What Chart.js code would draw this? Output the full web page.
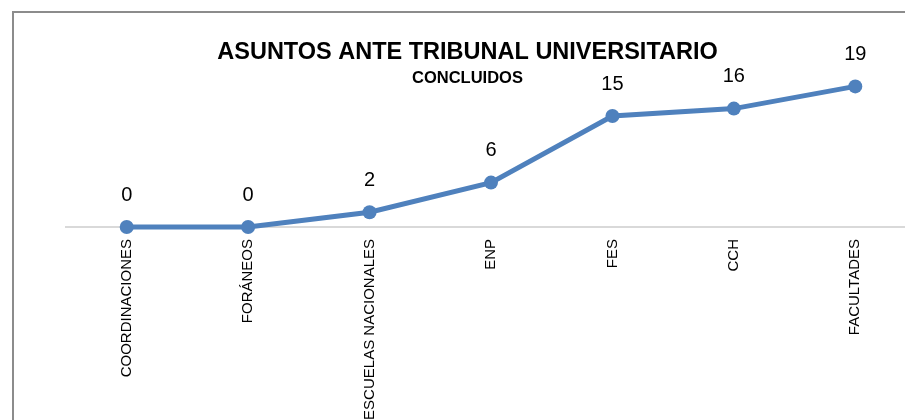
<!DOCTYPE html>
<html>

<head>
    <meta charset="utf-8">
    <title>Asuntos ante Tribunal Universitario</title>
    <script src="https://cdn.jsdelivr.net/npm/chart.js@4.4.0/dist/chart.umd.min.js"></script>
    <style>
        html, body {
            margin: 0;
            padding: 0;
            width: 905px;
            height: 420px;
            overflow: hidden;
            background: #fff;
        }
        #marco {
            position: absolute;
            left: 12px;
            top: 11px;
            width: 1000px;
            height: 500px;
            border: 2px solid #8c8c8c;
        }
        .chart-container {
            position: absolute;
            left: 0;
            top: 0;
            width: 935px;
            height: 420px;
        }
    </style>
</head>

<body>
    <div id="marco"></div>
    <div class="chart-container">
        <canvas id="canvas"></canvas>
    </div>
    <script>
        // data
        const categorias = ['COORDINACIONES', 'FORÁNEOS', 'ESCUELAS NACIONALES', 'ENP', 'FES', 'CCH', 'FACULTADES'];
        const concluidos = [0, 0, 2, 6, 15, 16, 19];

        const titulo = 'ASUNTOS ANTE TRIBUNAL UNIVERSITARIO';
        const subtitulo = 'CONCLUIDOS';

        const azul = '#4f81bd';
        const fuente = "'Liberation Sans', Arial, sans-serif";

        // writes the value over each point
        const etiquetas = {
            id: 'etiquetas',
            afterDatasetsDraw(chart) {
                const ctx = chart.ctx;
                const meta = chart.getDatasetMeta(0);
                ctx.save();
                ctx.font = "20px " + fuente;
                ctx.fillStyle = '#000';
                ctx.textAlign = 'center';
                ctx.textBaseline = 'middle';
                meta.data.forEach(function (p, i) {
                    ctx.fillText(String(concluidos[i]), p.x, p.y - 32);
                });
                ctx.restore();
            }
        };

        var chart = new Chart(document.getElementById('canvas'), {
            type: 'line',
            data: {
                labels: categorias,
                datasets: [{
                    label: subtitulo,
                    data: concluidos,
                    borderColor: azul,
                    backgroundColor: azul,
                    borderWidth: 5,
                    pointRadius: 7,
                    pointHoverRadius: 7,
                    pointBorderWidth: 0,
                    tension: 0,
                    clip: false
                }]
            },
            options: {
                responsive: true,
                maintainAspectRatio: false,
                animation: false,
                layout: {
                    padding: { top: 38, right: 19, left: 19, bottom: 0 }
                },
                plugins: {
                    legend: { display: false },
                    tooltip: { enabled: false },
                    title: {
                        display: true,
                        text: titulo,
                        color: '#000',
                        font: { family: fuente, size: 23.5, weight: 'bold' },
                        padding: { top: 0, bottom: 0 }
                    },
                    subtitle: {
                        display: true,
                        text: subtitulo,
                        color: '#000',
                        font: { family: fuente, size: 16.5, weight: 'bold' },
                        padding: { top: 2, bottom: -9 }
                    }
                },
                scales: {
                    x: {
                        offset: true,
                        grid: { display: false, drawTicks: false },
                        border: { display: true, color: '#d9d9d9', width: 2 },
                        ticks: {
                            color: '#000',
                            font: { family: fuente, size: 15 },
                            minRotation: 90,
                            maxRotation: 90,
                            autoSkip: false,
                            padding: 12
                        },
                        afterFit: function (scale) {
                            scale.height = 193;
                        }
                    },
                    y: {
                        display: true,
                        min: 0,
                        max: 20,
                        grid: { display: false },
                        border: { display: false },
                        ticks: { display: false },
                        afterFit: function (scale) {
                            scale.width = 47;
                        }
                    }
                }
            },
            plugins: [etiquetas]
        });
    </script>
</body>

</html>
